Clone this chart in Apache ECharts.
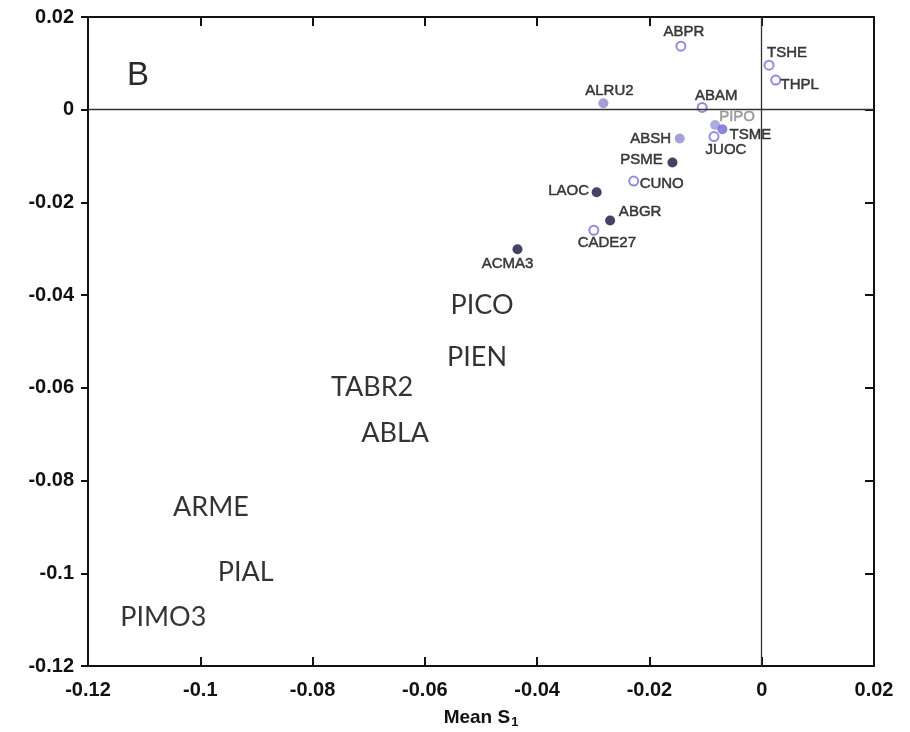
<!DOCTYPE html>
<html>
<head>
<meta charset="utf-8">
<script src="https://cdn.jsdelivr.net/npm/echarts@6/dist/echarts.min.js"></script>
<style>
html,body{margin:0;padding:0;background:#fff;}
#chart{width:910px;height:732px;}
</style>
</head>
<body>
<div id="chart"></div>
<script>
// ---- data ----
const xTicks = [-0.12, -0.1, -0.08, -0.06, -0.04, -0.02, 0, 0.02];
const yTicks = [0.02, 0, -0.02, -0.04, -0.06, -0.08, -0.1, -0.12];

const hollowNames = ['ABPR', 'TSHE', 'THPL', 'ABAM', 'JUOC', 'CUNO', 'CADE27'];
const hollowX = [-0.0144, 0.0013, 0.0025, -0.0106, -0.0085, -0.0228, -0.0299];
const hollowY = [0.0137, 0.0096, 0.0064, 0.0005, -0.0058, -0.0154, -0.0260];

const lightNames = ['ALRU2', 'ABSH', 'PIPO', 'TSME'];
const lightX = [-0.0282, -0.0146, -0.0083, -0.0070];
const lightY = [0.0014, -0.0062, -0.0033, -0.0042];

const darkNames = ['PSME', 'LAOC', 'ABGR', 'ACMA3'];
const darkX = [-0.0159, -0.0294, -0.0270, -0.0435];
const darkY = [-0.0114, -0.0178, -0.0239, -0.0301];

const bigNames = ['PICO', 'PIEN', 'TABR2', 'ABLA', 'ARME', 'PIAL', 'PIMO3'];
const bigX = [-0.0498, -0.0507, -0.0694, -0.0653, -0.0981, -0.0919, -0.1066];
const bigY = [-0.0421, -0.0534, -0.0598, -0.0698, -0.0857, -0.0997, -0.1094];

// ---- styling (label placement offsets, colours) ----
const labelOffset = {
  ABPR: [3, -14], TSHE: [18, -12], THPL: [24, 5], ABAM: [14, -12], JUOC: [12, 13],
  CUNO: [28, 3], CADE27: [13, 13], ALRU2: [6, -12], ABSH: [-29, 0], PIPO: [22, -8],
  TSME: [28, 6], PSME: [-31, -3], LAOC: [-28, -1], ABGR: [30, -9], ACMA3: [-10, 15]
};
const fillColor = { ALRU2: '#8b87c6', ABSH: '#8f8bcb', PIPO: '#9b97dc', TSME: '#6d68cf' };

function pts(names, xs, ys, extra) {
  return names.map((n, i) => {
    const o = {
      name: n, value: [xs[i], ys[i]],
      label: { offset: labelOffset[n] || [0, 0] }
    };
    if (extra) extra(o, n);
    return o;
  });
}

const ptLabel = {
  show: true, position: 'inside', formatter: '{b}',
  fontFamily: 'Liberation Sans, Arial, sans-serif', fontSize: 15, color: '#111',
  textBorderColor: '#111', textBorderWidth: 0.5
};

const chart = echarts.init(document.getElementById('chart'), null, { renderer: 'canvas' });

const axisLine = { show: true, onZero: false, lineStyle: { color: '#111', width: 2 } };
const tickLabel = {
  fontFamily: 'Liberation Sans, Arial, sans-serif', fontWeight: 'bold', fontSize: 20, color: '#111'
};
const fmt = v => (Math.round(v * 100) / 100).toString();

chart.setOption({
  backgroundColor: '#fff',
  animation: false,
  grid: { left: 88, right: 36, top: 17, bottom: 66, containLabel: false, outerBoundsMode: 'none' },
  xAxis: [{
    type: 'value', min: -0.12, max: 0.02, interval: 0.02, position: 'bottom',
    axisLine: axisLine, splitLine: { show: false },
    axisTick: { show: true, inside: true, length: 9, lineStyle: { color: '#111', width: 2 } },
    axisLabel: Object.assign({ margin: 14, formatter: fmt }, tickLabel),
    name: '{a|Mean S}{s|1}', nameLocation: 'middle', nameGap: 40,
    nameTextStyle: {
      rich: {
        a: { fontFamily: 'Liberation Sans, Arial, sans-serif', fontWeight: 'bold', fontSize: 19, color: '#111' },
        s: { fontFamily: 'Liberation Sans, Arial, sans-serif', fontWeight: 'bold', fontSize: 13, color: '#111', padding: [10, 0, 0, 1] }
      }
    }
  }, {
    type: 'value', min: -0.12, max: 0.02, interval: 0.02, position: 'top',
    axisLine: axisLine, splitLine: { show: false },
    axisTick: { show: true, inside: true, length: 9, lineStyle: { color: '#111', width: 2 } },
    axisLabel: { show: false }
  }],
  yAxis: [{
    type: 'value', min: -0.12, max: 0.02, interval: 0.02, position: 'left',
    axisLine: axisLine, splitLine: { show: false },
    axisTick: { show: true, inside: false, length: 7, lineStyle: { color: '#111', width: 2 } },
    axisLabel: Object.assign({ margin: 14, formatter: fmt }, tickLabel)
  }, {
    type: 'value', min: -0.12, max: 0.02, interval: 0.02, position: 'right',
    axisLine: axisLine, splitLine: { show: false },
    axisTick: { show: true, inside: true, length: 9, lineStyle: { color: '#111', width: 2 } },
    axisLabel: { show: false }
  }],
  graphic: [{
    type: 'text', left: 127, top: 59,
    style: { text: 'B', fontFamily: 'Liberation Sans, Arial, sans-serif', fontSize: 33, fill: '#2a2a2a' }
  }],
  series: [{
    type: 'scatter', name: 'hollow', symbol: 'circle', symbolSize: 9,
    itemStyle: { color: '#fff', borderColor: '#7470d4', borderWidth: 2 },
    label: ptLabel,
    data: pts(hollowNames, hollowX, hollowY),
    markLine: {
      silent: true, symbol: 'none', label: { show: false },
      lineStyle: { color: '#333', width: 1.3, type: 'solid' },
      data: [{ xAxis: 0 }, { yAxis: 0 }]
    },
    z: 3
  }, {
    type: 'scatter', name: 'light', symbol: 'circle', symbolSize: 10,
    itemStyle: { color: '#8b87c6' },
    label: ptLabel,
    data: pts(lightNames, lightX, lightY, (o, n) => {
      o.itemStyle = { color: fillColor[n] };
      if (n === 'PIPO') { o.label.color = '#8a8a8a'; o.label.textBorderColor = '#8a8a8a'; }
    }),
    z: 3
  }, {
    type: 'scatter', name: 'dark', symbol: 'circle', symbolSize: 10,
    itemStyle: { color: '#14143f' },
    label: ptLabel,
    data: pts(darkNames, darkX, darkY),
    z: 3
  }, {
    type: 'scatter', name: 'big', symbol: 'circle', symbolSize: 1,
    itemStyle: { color: 'rgba(255,255,255,0)' },
    label: {
      show: true, position: 'inside', formatter: '{b}',
      fontFamily: 'Lato, Open Sans, sans-serif', fontSize: 27, color: '#000'
    },
    data: bigNames.map((n, i) => ({ name: n, value: [bigX[i], bigY[i]] })),
    z: 4
  }]
});
</script>
</body>
</html>
